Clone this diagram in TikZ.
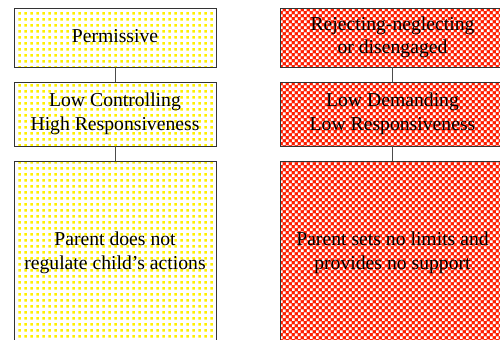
\documentclass[tikz,border=0pt]{standalone}
\usepackage{fontspec}
\setmainfont{Liberation Serif}
\usetikzlibrary{patterns}
\definecolor{neglred}{RGB}{255,30,0}
\definecolor{permyellow}{RGB}{255,240,0}
\pgfdeclarepatternformonly{yellowdots}{\pgfqpoint{0pt}{0pt}}{\pgfqpoint{3.2pt}{3.2pt}}{\pgfqpoint{3.2pt}{3.2pt}}{%
  \pgfpathrectangle{\pgfqpoint{0.8pt}{0.8pt}}{\pgfqpoint{1.5pt}{1.5pt}}\pgfusepath{fill}}
\pgfdeclarepatternformonly{redcheck}{\pgfqpoint{0pt}{0pt}}{\pgfqpoint{3.4pt}{3.4pt}}{\pgfqpoint{3.4pt}{3.4pt}}{%
  \pgfpathrectangle{\pgfqpoint{0pt}{0pt}}{\pgfqpoint{1.5pt}{1.5pt}}%
  \pgfpathrectangle{\pgfqpoint{1.7pt}{1.7pt}}{\pgfqpoint{1.5pt}{1.5pt}}\pgfusepath{fill}}
\tikzset{
stage/.style={draw=black!80, line width=0.5pt, align=center, inner sep=0pt,
  font=\fontsize{11.2}{13.4}\selectfont},
permissive/.style={stage, preaction={fill=white}, pattern=yellowdots, pattern color=permyellow,
  minimum width=4.04cm},
neglect/.style={stage, preaction={fill=neglred}, pattern=redcheck, pattern color=white,
  minimum width=4.5cm},
link/.style={draw=black!70, line width=0.5pt}
}
\begin{document}
\begin{tikzpicture}[x=0.02cm, y=-0.02cm]
  \useasboundingbox (0,0) rectangle (500,339);
  \clip (0,0) rectangle (500,339);
  % permissive column
  \node[permissive, minimum height=1.18cm] (perm) at (115,37.5) {\strut Permissive};
  \node[permissive, minimum height=1.28cm] (permstyle) at (115,114) {Low Controlling\\High Responsiveness};
  \node[permissive, minimum height=3.68cm] (permact) at (115,253) {Parent does not\\regulate child's actions};
  \draw[link] (perm) -- (permstyle);
  \draw[link] (permstyle) -- (permact);
  % neglecting column
  \node[neglect, minimum height=1.18cm] (negl) at (392.5,37.5) {Rejecting-neglecting\\or disengaged};
  \node[neglect, minimum height=1.28cm] (neglstyle) at (392.5,114) {Low Demanding\\Low Responsiveness};
  \node[neglect, minimum height=3.68cm] (neglact) at (392.5,253) {Parent sets no limits and\\provides no support};
  \draw[link] (negl) -- (neglstyle);
  \draw[link] (neglstyle) -- (neglact);
\end{tikzpicture}
\end{document}
